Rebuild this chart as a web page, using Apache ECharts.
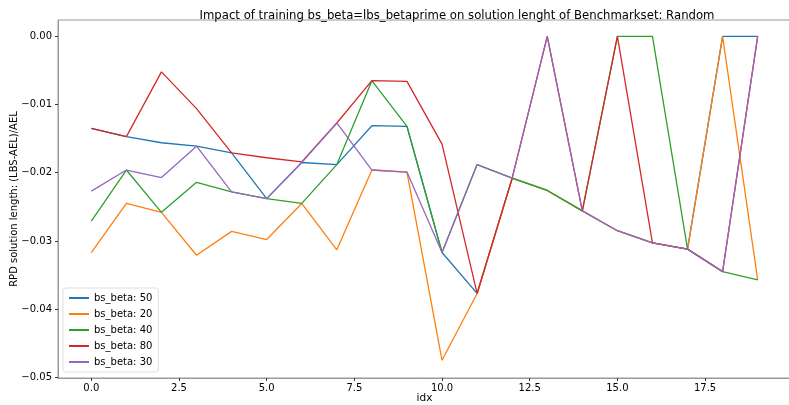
<!DOCTYPE html>
<html>
<head>
<meta charset="utf-8">
<script src="https://cdn.jsdelivr.net/npm/echarts@6/dist/echarts.min.js"></script>
<style>
  html, body { margin: 0; padding: 0; background: #fff; }
  #chart { width: 789px; height: 405px; }
</style>
</head>
<body>
<div id="chart"></div>
<script>
// idx 0..19
const idx = [0, 1, 2, 3, 4, 5, 6, 7, 8, 9, 10, 11, 12, 13, 14, 15, 16, 17, 18, 19];

const beta50 = [-0.0135, -0.0147, -0.0156, -0.0161, -0.0171, -0.0238, -0.0185, -0.0188, -0.0131, -0.0132,
  -0.0317, -0.0377, -0.0208, -0.0226, -0.0256, -0.0285, -0.0303, -0.0312, 0.0, 0.0];
const beta20 = [-0.0317, -0.0245, -0.0258, -0.0321, -0.0286, -0.0298, -0.0245, -0.0313, -0.0196, -0.0199,
  -0.0475, -0.0377, -0.0208, -0.0226, -0.0256, -0.0285, -0.0303, -0.0312, 0.0, -0.0357];
const beta40 = [-0.0271, -0.0196, -0.0258, -0.0214, -0.0228, -0.0238, -0.0245, -0.0188, -0.0065, -0.0132,
  -0.0317, -0.0188, -0.0208, -0.0226, -0.0256, 0.0, 0.0, -0.0312, -0.0345, -0.0357];
const beta80 = [-0.0135, -0.0147, -0.0052, -0.0106, -0.0171, -0.0178, -0.0184, -0.0127, -0.0065, -0.0066,
  -0.0158, -0.0377, -0.0208, 0.0, -0.0256, 0.0, -0.0303, -0.0312, -0.0345, 0.0];
const beta30 = [-0.0227, -0.0196, -0.0207, -0.0161, -0.0228, -0.0238, -0.0185, -0.0127, -0.0196, -0.0199,
  -0.0317, -0.0188, -0.0208, 0.0, -0.0256, -0.0285, -0.0303, -0.0312, -0.0345, 0.0];

const seriesNames = ["bs_beta: 50", "bs_beta: 20", "bs_beta: 40", "bs_beta: 80", "bs_beta: 30"];
const seriesData = [beta50, beta20, beta40, beta80, beta30];
const colors = ["#1f77b4", "#ff7f0e", "#2ca02c", "#d62728", "#9467bd"];

const xTicks = [0, 2.5, 5, 7.5, 10, 12.5, 15, 17.5];
const yTicks = [-0.05, -0.04, -0.03, -0.02, -0.01, 0.0];

const font = "DejaVu Sans";
const chart = echarts.init(document.getElementById("chart"));

chart.setOption({
  animation: false,
  color: colors,
  title: {
    text: "Impact of training bs_beta=lbs_betaprime on solution lenght of Benchmarkset: Random",
    left: 452,
    textAlign: "center",
    top: 5,
    textStyle: { fontFamily: font, fontSize: 11.7, fontWeight: "normal", color: "#000" },
  },
  grid: {
    left: 58,
    right: -2,
    top: 20,
    bottom: 27,
    outerBoundsMode: "none",
    show: true,
    borderColor: "#999",
    borderWidth: 1,
  },
  legend: {
    orient: "vertical",
    left: 63,
    bottom: 33,
    padding: [4, 6, 4, 6],
    icon: "rect",
    itemGap: 4,
    itemWidth: 20,
    itemHeight: 2,
    backgroundColor: "#fff",
    borderColor: "#ddd",
    borderWidth: 1,
    borderRadius: 3,
    textStyle: { fontFamily: font, fontSize: 10, color: "#000", lineHeight: 12 },
    data: seriesNames,
  },
  xAxis: {
    type: "value",
    min: -0.95,
    max: 19.95,
    name: "idx",
    nameLocation: "middle",
    nameGap: 15,
    nameMoveOverlap: false,
    nameTextStyle: { fontFamily: font, fontSize: 10.5, color: "#000" },
    splitLine: { show: false },
    axisLine: { show: true, onZero: false, lineStyle: { color: "#999" } },
    axisTick: { show: true, length: 3, customValues: xTicks, lineStyle: { color: "#333" } },
    axisLabel: {
      customValues: xTicks,
      fontFamily: font,
      fontSize: 10,
      color: "#000",
      margin: 5,
      formatter: (v) => v.toFixed(1),
    },
  },
  yAxis: {
    type: "value",
    min: -0.0501,
    max: 0.0024,
    name: "RPD solution length: (LBS-AEL)/AEL",
    nameLocation: "middle",
    nameGap: 39,
    nameMoveOverlap: false,
    nameTextStyle: { fontFamily: font, fontSize: 10, color: "#000" },
    splitLine: { show: false },
    axisLine: { show: true, onZero: false, lineStyle: { color: "#999" } },
    axisTick: { show: true, length: 3, customValues: yTicks, lineStyle: { color: "#333" } },
    axisLabel: {
      customValues: yTicks,
      fontFamily: font,
      fontSize: 10,
      color: "#000",
      margin: 6,
      formatter: (v) => (v < 0 ? "\u2212" : "") + Math.abs(v).toFixed(2),
    },
  },
  series: seriesData.map((d, i) => ({
    name: seriesNames[i],
    type: "line",
    symbol: "none",
    lineStyle: { width: 1.3, color: colors[i] },
    data: idx.map((x, j) => [x, d[j]]),
  })),
});
</script>
</body>
</html>
